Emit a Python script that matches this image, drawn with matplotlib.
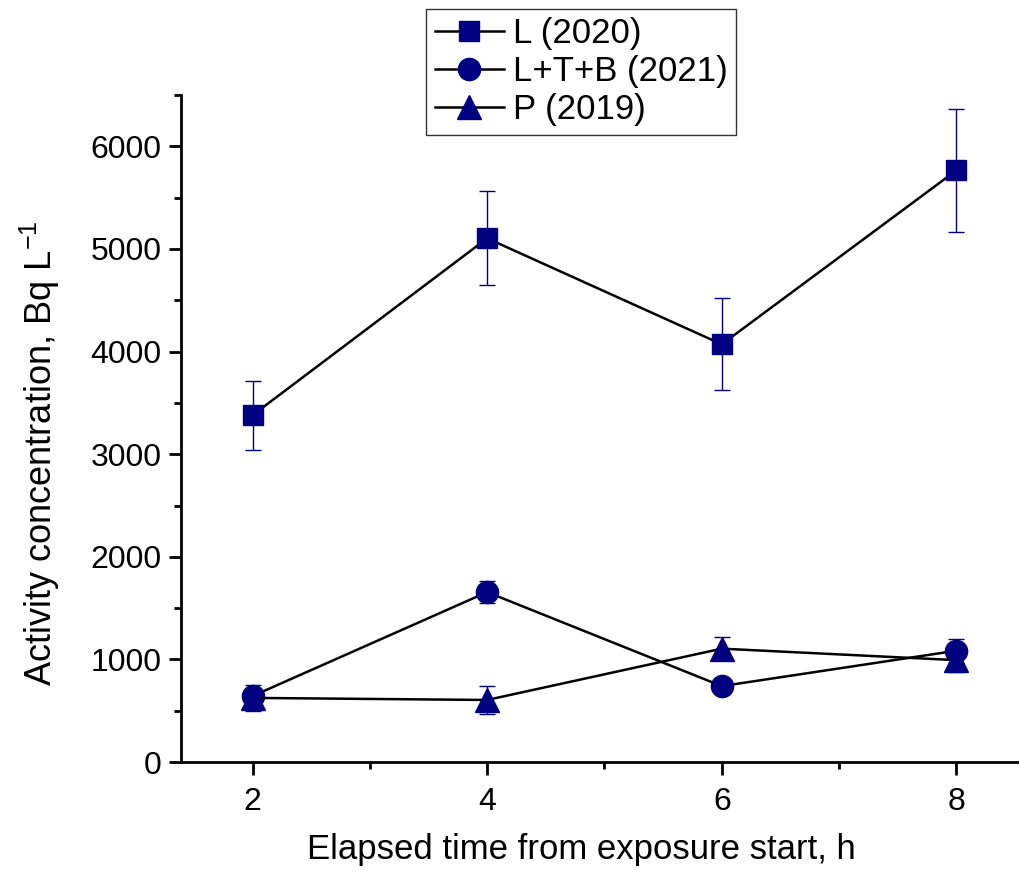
import matplotlib
matplotlib.use('Agg')
import matplotlib.pyplot as plt
from matplotlib.ticker import MultipleLocator

plt.rcParams['font.family'] = ['Liberation Sans', 'DejaVu Sans']

# elapsed time, h
hours = [2, 4, 6, 8]

# L (2020)
l2020 = [3380, 5104, 4071, 5766]
l2020_err = [335, 458, 448, 600]

# L+T+B (2021)
ltb2021 = [643, 1656, 740, 1085]
ltb2021_err = [60, 110, 40, 115]

# P (2019)
p2019 = [625, 605, 1105, 993]
p2019_err = [130, 135, 115, 115]

navy = '#000080'

fig = plt.figure(figsize=(10.19, 8.73), dpi=100)
ax = fig.add_axes([0.1776, 0.1271, 0.83, 0.764])

series = [
    (l2020, l2020_err, 's', 'L (2020)', 15),
    (ltb2021, ltb2021_err, 'o', 'L+T+B (2021)', 16),
    (p2019, p2019_err, '^', 'P (2019)', 17),
]
for vals, errs, mk, lab, ms in series:
    ax.errorbar(hours, vals, yerr=errs, fmt='none', ecolor=navy,
                elinewidth=1, capsize=6, capthick=1, zorder=2)
    ax.plot(hours, vals, color='black', lw=1.8, marker=mk, markersize=ms,
            markerfacecolor=navy, markeredgecolor=navy, label=lab, zorder=3)

ax.set_xlim(1.39, 8.6)
ax.set_ylim(0, 6500)
ax.xaxis.set_major_locator(MultipleLocator(2))
ax.xaxis.set_minor_locator(MultipleLocator(1))
ax.yaxis.set_major_locator(MultipleLocator(1000))
ax.yaxis.set_minor_locator(MultipleLocator(500))

for s in ['top', 'right']:
    ax.spines[s].set_visible(False)
for s in ['left', 'bottom']:
    ax.spines[s].set_linewidth(2)

ax.tick_params(which='major', direction='out', length=9, width=2, labelsize=23)
ax.tick_params(axis='x', which='major', pad=9)
ax.tick_params(axis='y', which='major', pad=5)
ax.tick_params(which='minor', direction='out', length=5, width=2)

ax.set_xlabel('Elapsed time from exposure start, h', fontsize=25)
ax.xaxis.set_label_coords(0.474, -0.106)
ax.set_ylabel('Activity concentration, Bq L$^{\\mathregular{-1}}$', fontsize=26)
ax.yaxis.set_label_coords(-0.141, 0.463)

leg = fig.legend(loc='upper left', bbox_to_anchor=(0.418, 0.99), fontsize=25,
                 frameon=True, fancybox=False, edgecolor='black',
                 handlelength=2.0, borderpad=0.25, labelspacing=0.14,
                 handletextpad=0.25, borderaxespad=0)
leg.get_frame().set_linewidth(1)

fig.savefig('out.png', dpi=100)
